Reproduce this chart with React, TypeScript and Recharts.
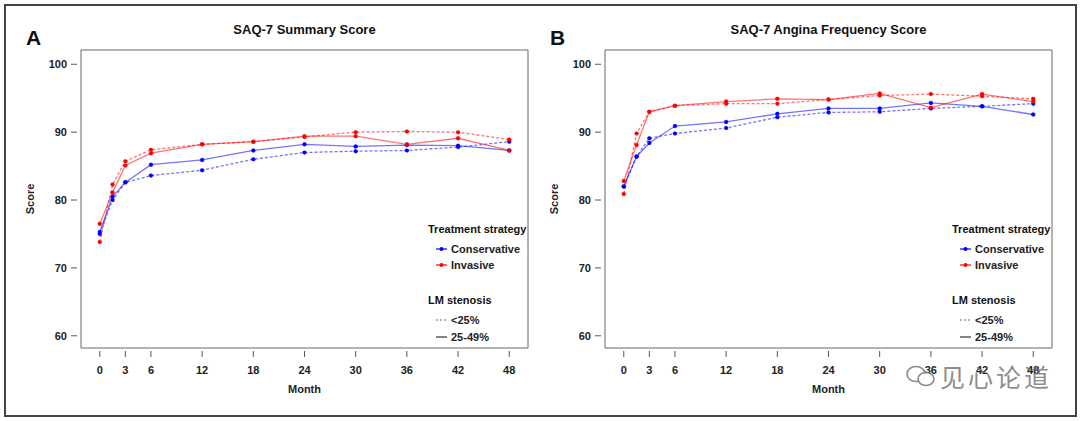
import React from 'react'
import { LineChart, Line, XAxis, YAxis, ReferenceArea } from 'recharts'

// follow-up months (second visit is ~6 weeks)
const months = [0, 1.5, 3, 6, 12, 18, 24, 30, 36, 42, 48]
const monthTicks = [0, 3, 6, 12, 18, 24, 30, 36, 42, 48]
const scoreTicks = [60, 70, 80, 90, 100]

// SAQ-7 Summary Score
const summaryConsLow = [75.0, 80.0, 82.6, 83.6, 84.4, 86.0, 87.0, 87.2, 87.3, 87.8, 88.6]
const summaryConsMid = [75.3, 80.5, 82.6, 85.2, 85.9, 87.3, 88.2, 87.9, 88.1, 88.0, 87.3]
const summaryInvLow = [73.8, 82.3, 85.7, 87.4, 88.2, 88.6, 89.3, 90.0, 90.1, 90.0, 88.9]
const summaryInvMid = [76.5, 81.1, 85.1, 86.9, 88.2, 88.6, 89.4, 89.4, 88.2, 89.1, 87.3]

// SAQ-7 Angina Frequency Score
const anginaConsLow = [82.0, 86.4, 89.1, 89.8, 90.6, 92.2, 92.9, 93.0, 93.5, 93.8, 94.2]
const anginaConsMid = [82.0, 86.4, 88.4, 90.9, 91.5, 92.7, 93.5, 93.5, 94.3, 93.8, 92.6]
const anginaInvLow = [80.9, 89.8, 93.0, 93.9, 94.2, 94.2, 94.8, 95.4, 95.6, 95.3, 94.9]
const anginaInvMid = [82.8, 88.1, 93.0, 93.9, 94.5, 94.9, 94.8, 95.7, 93.6, 95.6, 94.5]

const FONT = '"Liberation Sans", Arial, sans-serif'
const BLUE = '#0000ff'
const RED = '#ff0000'
const X_DOMAIN = [-2.2, 50.2]
const Y_DOMAIN = [58.2, 102.1]

const buildRows = (cLow: number[], cMid: number[], iLow: number[], iMid: number[]) =>
  months.map((m, i) => ({
    month: m,
    consLow: cLow[i],
    consMid: cMid[i],
    invLow: iLow[i],
    invMid: iMid[i]
  }))

const YTick = (props: any) => {
  const { x, y, payload } = props
  return (
    <g>
      <line x1={x - 10} x2={x - 4} y1={y} y2={y} stroke="#555" />
      <text x={x - 14} y={y} textAnchor="end" dominantBaseline="central" fontSize={11} fontWeight="bold" fill="#222" fontFamily={FONT}>
        {payload.value}
      </text>
    </g>
  )
}

const XTick = (props: any) => {
  const { x, y, payload } = props
  return (
    <g>
      <line x1={x} x2={x} y1={y + 3} y2={y + 9} stroke="#555" />
      <text x={x} y={y + 22} textAnchor="middle" dominantBaseline="central" fontSize={11} fontWeight="bold" fill="#222" fontFamily={FONT}>
        {payload.value}
      </text>
    </g>
  )
}

function LegendBox() {
  const item = (y: number, label: string, color: string, dash?: string, dot?: boolean) => (
    <g>
      <line x1={8} x2={19} y1={y} y2={y} stroke={color} strokeWidth={1.2} strokeDasharray={dash} />
      {dot && <circle cx={13.5} cy={y} r={2} fill={color} />}
      <text x={23} y={y} dominantBaseline="central" fontSize={11} fontWeight="bold" fill="#222">
        {label}
      </text>
    </g>
  )
  return (
    <svg width={112} height={130} style={{ position: 'absolute', left: 428, top: 218, fontFamily: FONT }}>
      <text x={0} y={11} dominantBaseline="central" fontSize={11} fontWeight="bold" fill="#111">
        Treatment strategy
      </text>
      {item(31, 'Conservative', BLUE, undefined, true)}
      {item(47, 'Invasive', RED, undefined, true)}
      <text x={0} y={82} dominantBaseline="central" fontSize={11} fontWeight="bold" fill="#111">
        LM stenosis
      </text>
      {item(102, '<25%', '#666', '2 2')}
      {item(119, '25-49%', '#333')}
    </svg>
  )
}

function Panel(props: { left: number; letter: string; title: string; rows: any[] }) {
  const { left, letter, title, rows } = props
  return (
    <div style={{ position: 'absolute', left, top: 0, width: 540, height: 421 }}>
      <div style={{ position: 'absolute', left: 26, top: 26, fontSize: 21, lineHeight: '24px', fontWeight: 'bold', fontFamily: FONT, color: '#111' }}>
        {letter}
      </div>
      <div
        style={{
          position: 'absolute',
          left: 81,
          width: 447,
          top: 22,
          textAlign: 'center',
          fontSize: 13,
          lineHeight: '16px',
          fontWeight: 'bold',
          fontFamily: FONT,
          color: '#111'
        }}
      >
        {title}
      </div>
      <LineChart width={540} height={421} data={rows} margin={{ top: 50, right: 12, left: 41, bottom: 28 }}>
        <XAxis
          type="number"
          dataKey="month"
          domain={X_DOMAIN}
          ticks={monthTicks}
          axisLine={false}
          tickLine={false}
          tickSize={0}
          tickMargin={0}
          height={45}
          tick={<XTick />}
          interval={0}
          label={{ value: 'Month', position: 'insideBottom', offset: 0, fontSize: 11, fontWeight: 'bold', fill: '#222', fontFamily: FONT }}
        />
        <YAxis
          type="number"
          domain={Y_DOMAIN}
          ticks={scoreTicks}
          allowDataOverflow
          axisLine={false}
          tickLine={false}
          tickSize={0}
          tickMargin={0}
          width={40}
          tick={<YTick />}
          interval={0}
          label={{
            value: 'Score',
            angle: -90,
            position: 'insideLeft',
            offset: -11,
            fontSize: 11,
            fontWeight: 'bold',
            fill: '#222',
            fontFamily: FONT,
            style: { textAnchor: 'middle' }
          }}
        />
        <ReferenceArea x1={X_DOMAIN[0]} x2={X_DOMAIN[1]} y1={Y_DOMAIN[0]} y2={Y_DOMAIN[1]} fill="none" stroke="#666" strokeWidth={1} />
        <Line
          dataKey="consLow"
          type="linear"
          stroke={BLUE}
          strokeOpacity={0.55}
          strokeWidth={1.3}
          strokeDasharray="3 2"
          dot={{ r: 2, fill: BLUE, stroke: BLUE, strokeWidth: 0.5 }}
          isAnimationActive={false}
        />
        <Line
          dataKey="consMid"
          type="linear"
          stroke={BLUE}
          strokeOpacity={0.55}
          strokeWidth={1.3}
          dot={{ r: 2, fill: BLUE, stroke: BLUE, strokeWidth: 0.5 }}
          isAnimationActive={false}
        />
        <Line
          dataKey="invLow"
          type="linear"
          stroke={RED}
          strokeOpacity={0.55}
          strokeWidth={1.3}
          strokeDasharray="3 2"
          dot={{ r: 2, fill: RED, stroke: RED, strokeWidth: 0.5 }}
          isAnimationActive={false}
        />
        <Line
          dataKey="invMid"
          type="linear"
          stroke={RED}
          strokeOpacity={0.55}
          strokeWidth={1.3}
          dot={{ r: 2, fill: RED, stroke: RED, strokeWidth: 0.5 }}
          isAnimationActive={false}
        />
      </LineChart>
      <LegendBox />
    </div>
  )
}

export default function App() {
  const summaryRows = buildRows(summaryConsLow, summaryConsMid, summaryInvLow, summaryInvMid)
  const anginaRows = buildRows(anginaConsLow, anginaConsMid, anginaInvLow, anginaInvMid)

  return (
    <div style={{ position: 'absolute', left: 0, top: 0, width: 1080, height: 421, background: '#fff', overflow: 'hidden' }}>
      <div
        style={{
          position: 'absolute',
          left: 4,
          top: 4,
          width: 1069,
          height: 409,
          border: '2px solid #444'
        }}
      />
      <Panel left={0} letter="A" title="SAQ-7 Summary Score" rows={summaryRows} />
      <Panel left={524} letter="B" title="SAQ-7 Angina Frequency Score" rows={anginaRows} />
      <div
        style={{
          position: 'absolute',
          left: 905,
          top: 361,
          display: 'flex',
          alignItems: 'center',
          color: 'rgba(110,110,110,0.8)',
          fontFamily: '"Noto Sans CJK SC", sans-serif',
          fontSize: 25,
          letterSpacing: 3,
          lineHeight: '30px'
        }}
      >
        <svg width={32} height={26} style={{ marginRight: 3 }}>
          <ellipse cx={11} cy={11} rx={9} ry={7.5} fill="none" stroke="rgba(110,110,110,0.8)" strokeWidth={1.6} />
          <ellipse cx={21} cy={16} rx={8} ry={6.5} fill="rgba(255,255,255,0.9)" stroke="rgba(110,110,110,0.8)" strokeWidth={1.6} />
        </svg>
        见心论道
      </div>
    </div>
  )
}
